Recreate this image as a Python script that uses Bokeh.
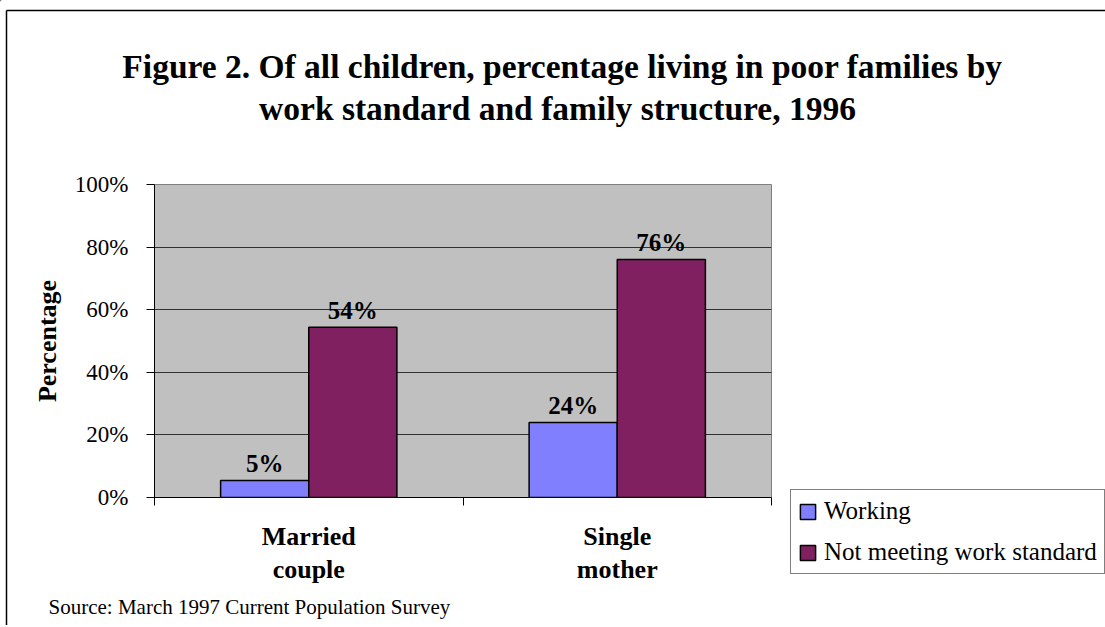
from bokeh.plotting import figure
from bokeh.models import (FactorRange, Range1d, LinearAxis, FixedTicker, NumeralTickFormatter,
                          ColumnDataSource, Legend, LegendItem, Grid, Label)
from bokeh.transform import dodge
from bokeh.core.properties import value
from bokeh.embed import file_html
from bokeh.resources import INLINE

# ---------------- data ----------------
categories = ["Married couple", "Single mother"]
working = [0.054, 0.24]
not_meeting = [0.544, 0.76]
series_names = ["Working", "Not meeting work standard"]
series_colors = ["#8080FF", "#802060"]
y_ticks = [0.0, 0.2, 0.4, 0.6, 0.8, 1.0]
title_lines = ["Figure 2. Of all children, percentage living in poor families by",
               "work standard and family structure, 1996"]
y_title = "Percentage"
source_note = "Source: March 1997 Current Population Survey"

# ---------------- layout (page pixels) ----------------
W = 1105
H_MAIN = 620          # kept a little under the window height so the page never scrolls
H_LAYER = 625
FL, FR, FT, FB = 154, 771, 184, 497
FONT = "Liberation Serif"
n = len(categories)
bar_w = 1 / 3.5

src = ColumnDataSource(dict(
    cat=categories, working=working, not_meeting=not_meeting,
    wl=[f"{v:.0%}" for v in working], nl=[f"{v:.0%}" for v in not_meeting]))

# ---------------- main chart ----------------
p = figure(width=W, height=H_MAIN, x_range=FactorRange(*categories), y_range=Range1d(0, 1),
           x_axis_type=None, y_axis_type=None, output_backend="svg", toolbar_location=None,
           min_border_left=FL, min_border_right=W - FR, min_border_top=FT,
           min_border_bottom=H_MAIN - FB)
p.background_fill_color = "#C0C0C0"
p.border_fill_color = "white"
p.outline_line_color = "#808080"
p.outline_line_width = 1

yticker = FixedTicker(ticks=y_ticks)
yaxis = LinearAxis(ticker=yticker, formatter=NumeralTickFormatter(format="0%"),
                   axis_label=y_title, axis_label_text_font=FONT, axis_label_text_font_style="bold",
                   axis_label_text_font_size="26px", axis_label_standoff=10,
                   axis_label_text_color="black",
                   major_label_text_font=FONT, major_label_text_font_size="23px",
                   major_label_text_color="black", major_label_standoff=18,
                   major_tick_out=8, major_tick_in=0, major_tick_line_color="black",
                   minor_tick_line_color=None, axis_line_color="black")
p.add_layout(yaxis, "left")

xt_major = [i + 0.5 for i in range(n)]
overrides = {}
for i, c in enumerate(categories):
    overrides[i + 0.5] = c.replace(" ", "\n")
    overrides[str(i + 0.5)] = c.replace(" ", "\n")
xaxis = LinearAxis(ticker=FixedTicker(ticks=xt_major, minor_ticks=list(range(n + 1))),
                   major_label_overrides=overrides,
                   major_label_text_font=FONT, major_label_text_font_size="26px",
                   major_label_text_font_style="bold", major_label_text_color="black",
                   major_label_standoff=16, major_label_text_line_height=1.15,
                   major_tick_out=0, major_tick_in=0, major_tick_line_color=None,
                   minor_tick_out=8, minor_tick_in=0, minor_tick_line_color="black",
                   axis_line_color="black")
p.add_layout(xaxis, "below")

p.add_layout(Grid(dimension=1, ticker=yticker, grid_line_color="#303030", grid_line_width=1))

p.vbar(x=dodge("cat", -bar_w / 2, range=p.x_range), top="working", width=bar_w, source=src,
       fill_color=series_colors[0], line_color="black", line_width=1.5)
p.vbar(x=dodge("cat", bar_w / 2, range=p.x_range), top="not_meeting", width=bar_w, source=src,
       fill_color=series_colors[1], line_color="black", line_width=1.5)

for col, lab, off in (("working", "wl", -bar_w / 2), ("not_meeting", "nl", bar_w / 2)):
    p.text(x=dodge("cat", off, range=p.x_range), y=col, text=lab, source=src, y_offset=-17,
           text_align="center", text_baseline="alphabetic", text_font=value(FONT),
           text_font_style="bold", text_font_size="25px", text_color="black")

# ---------------- transparent page-sized layer: titles, source, legend, outer frame ----------------
q = figure(width=W, height=H_LAYER, x_range=Range1d(0, W), y_range=Range1d(H_LAYER, 0),
           x_axis_type=None, y_axis_type=None, output_backend="svg", toolbar_location=None,
           min_border=0, outline_line_color=None,
           styles={"position": "absolute", "left": "0px", "top": "0px"})
q.background_fill_color = None
q.border_fill_color = None

for line, cx, base in zip(title_lines, (562, 557), (66, 108)):
    q.add_layout(Label(x=cx, y=base, text=line, text_align="center",
                       text_baseline="alphabetic", text_font=FONT, text_font_style="bold",
                       text_font_size="33.5px", text_color="black"))

q.add_layout(Label(x=48, y=606, text=source_note, text_align="left",
                   text_baseline="alphabetic", text_font=FONT, text_font_size="21px",
                   text_color="black"))

# outer chart-area border (left and top edges; the others fall outside the window)
q.segment(x0=[6, 6], y0=[10, 10], x1=[6, W + 20], y1=[H_LAYER + 20, 10],
          line_color="black", line_width=1.5)

# legend swatches come from renderers whose only point lies outside the visible page
offpage = ColumnDataSource(dict(x=[-500], top=[-500]))
leg_r = [q.vbar(x="x", top="top", width=1, bottom=-501, source=offpage, fill_color=c,
                line_color="black", line_width=1.5) for c in series_colors]
legend = Legend(items=[LegendItem(label=s, renderers=[r]) for s, r in zip(series_names, leg_r)],
                location=(790, H_LAYER - 574), orientation="vertical",
                label_text_font=FONT, label_text_font_size="25px", label_text_color="black",
                glyph_width=19, glyph_height=19, label_height=26, label_standoff=7,
                spacing=13, padding=7, margin=0,
                border_line_color="black", border_line_width=1,
                background_fill_color="white", background_fill_alpha=1)
q.add_layout(legend)

open("out.html", "w").write(file_html([p, q], INLINE))
